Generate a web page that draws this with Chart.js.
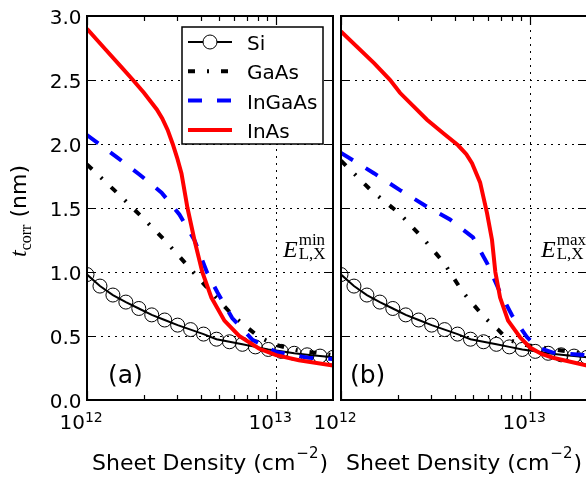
<!DOCTYPE html>
<html>
<head>
<meta charset="utf-8">
<script src="https://cdn.jsdelivr.net/npm/chart.js@4.4.0/dist/chart.umd.min.js"></script>
<style>
  html, body { margin: 0; padding: 0; background: #fff; overflow: hidden; }
  .panel { position: absolute; top: 0; left: 0; height: 479px; }
  #wrapA { width: 586px; }
  #wrapB { width: 600px; }
</style>
</head>
<body>
<div class="panel" id="wrapA"><canvas id="chartA"></canvas></div>
<div class="panel" id="wrapB"><canvas id="chartB"></canvas></div>
<script>
/** Data : sheet density in 1e12 cm^-2, t_corr in nm */
const seriesNames = ['Si', 'GaAs', 'InGaAs', 'InAs'];

const siDensity = [1.000, 1.171, 1.371, 1.605, 1.879, 2.200, 2.576, 3.016, 3.531, 4.134, 4.840, 5.667, 6.635, 7.768, 9.095, 10.65, 12.47, 14.59, 17.08, 20.00];
const siTcorr = [0.98, 0.89, 0.82, 0.765, 0.715, 0.665, 0.625, 0.585, 0.55, 0.515, 0.475, 0.455, 0.435, 0.415, 0.395, 0.38, 0.365, 0.353, 0.343, 0.333];

// panel (a) : E_min
const gaasDensityA = [1, 1.44, 1.95, 2.57, 3.4, 4.55, 6.0, 8.15, 10, 12.8, 20];
const gaasTcorrA = [1.84, 1.62, 1.43, 1.25, 1.05, 0.84, 0.65, 0.49, 0.43, 0.39, 0.35];
const ingaasDensityA = [1, 1.46, 1.9, 2.48, 3.08, 3.7, 4.33, 4.9, 5.86, 7.5, 10, 14.8, 20];
const ingaasTcorrA = [2.07, 1.89, 1.76, 1.62, 1.45, 1.25, 0.99, 0.84, 0.64, 0.47, 0.375, 0.33, 0.32];
const inasDensityA = [1, 1.25, 1.5, 1.75, 2, 2.34, 2.5, 2.67, 2.84, 3.0, 3.16, 3.4, 3.7, 4.07, 4.55, 5.33, 6.38, 8.15, 10, 13.2, 20];
const inasTcorrA = [2.90, 2.74, 2.61, 2.50, 2.40, 2.27, 2.20, 2.11, 2.00, 1.89, 1.77, 1.50, 1.25, 1.00, 0.80, 0.62, 0.50, 0.40, 0.35, 0.31, 0.27];

// panel (b) : E_max
const gaasDensityB = [1, 1.46, 2.03, 2.69, 3.51, 4.42, 5.78, 6.77, 7.65, 9.5, 11.6, 17.3, 20];
const gaasTcorrB = [1.87, 1.63, 1.46, 1.27, 1.07, 0.84, 0.64, 0.55, 0.47, 0.43, 0.41, 0.37, 0.36];
const ingaasDensityB = [1, 1.5, 2.05, 2.78, 3.77, 4.99, 5.92, 6.94, 8.03, 9.64, 11, 13.2, 20];
const ingaasTcorrB = [1.93, 1.77, 1.64, 1.52, 1.41, 1.27, 1.07, 0.84, 0.66, 0.49, 0.41, 0.37, 0.35];
const inasDensityB = [1, 1.5, 1.82, 2.05, 2.85, 3.5, 4.16, 4.6, 4.93, 5.44, 5.92, 6.29, 6.55, 6.94, 7.65, 8.85, 10, 11.5, 13.2, 20];
const inasTcorrB = [2.88, 2.63, 2.50, 2.40, 2.19, 2.08, 1.99, 1.92, 1.85, 1.70, 1.46, 1.25, 1.00, 0.80, 0.62, 0.49, 0.41, 0.36, 0.33, 0.27];

// axes
const yTicks = [0, 0.5, 1, 1.5, 2, 2.5, 3];
const yGrid = [0.5, 1, 1.5, 2, 2.5];
const xMajor = [1, 10];
const xMajorExp = ['12', '13'];
const xMinor = [2, 3, 4, 5, 6, 7, 8, 9];

/** Initialisation */
Chart.defaults.font.family = '"DejaVu Sans", sans-serif';
Chart.defaults.color = '#000';

const SANS = '"DejaVu Sans", sans-serif';
const SERIF = '"Liberation Serif", "DejaVu Serif", serif';

generateChart = (id, config) => new Chart(document.getElementById(id), config)

const toPoints = (xs, ys) => xs.map((x, i) => ({ x: x, y: ys[i] }));

const styles = {
    Si: { borderColor: '#000', borderWidth: 2, borderDash: [], pointRadius: 7, pointStyle: 'circle',
          pointBorderColor: '#000', pointBackgroundColor: 'rgba(0,0,0,0)', pointBorderWidth: 1 },
    GaAs: { borderColor: '#000', borderWidth: 4, borderDash: [7, 12, 2, 12], pointRadius: 0 },
    InGaAs: { borderColor: '#0000ff', borderWidth: 4, borderDash: [14, 15], pointRadius: 0 },
    InAs: { borderColor: '#ff0000', borderWidth: 4, borderDash: [], pointRadius: 0 }
};

function drawSuper(ctx, x, y, base, baseFont, sup, supFont, rise) {
    ctx.font = baseFont;
    ctx.fillText(base, x, y);
    const w = ctx.measureText(base).width;
    ctx.font = supFont;
    ctx.fillText(sup, x + w, y - rise);
    return w + ctx.measureText(sup).width;
}

/** Plugin : grid, frame, ticks, labels, legend */
const decor = {
    id: 'decor',
    beforeDatasetsDraw(chart, args, opts) {
        const { ctx, chartArea: a, scales: { x, y } } = chart;
        ctx.save();
        ctx.strokeStyle = '#000';
        ctx.lineWidth = 1;
        ctx.setLineDash([2, 5]);
        yGrid.forEach(v => {
            const py = Math.round(y.getPixelForValue(v)) + 0.5;
            ctx.beginPath(); ctx.moveTo(a.left, py); ctx.lineTo(a.right, py); ctx.stroke();
        });
        xMajor.forEach(v => {
            const px = Math.round(x.getPixelForValue(v)) + 0.5;
            if (px <= a.left + 2) return;
            ctx.beginPath(); ctx.moveTo(px, a.top); ctx.lineTo(px, a.bottom); ctx.stroke();
        });
        ctx.restore();
    },
    afterDatasetsDraw(chart, args, opts) {
        const { ctx, chartArea: a, scales: { x, y } } = chart;
        ctx.save();
        ctx.setLineDash([]);
        ctx.strokeStyle = '#000';
        ctx.fillStyle = '#000';

        // ticks (inward)
        ctx.lineWidth = 1.2;
        yTicks.forEach(v => {
            const py = Math.round(y.getPixelForValue(v)) + 0.5;
            ctx.beginPath();
            ctx.moveTo(a.left, py); ctx.lineTo(a.left + 9, py);
            ctx.moveTo(a.right, py); ctx.lineTo(a.right - 9, py);
            ctx.stroke();
        });
        xMajor.forEach(v => {
            const px = Math.round(x.getPixelForValue(v)) + 0.5;
            ctx.beginPath();
            ctx.moveTo(px, a.bottom); ctx.lineTo(px, a.bottom - 9);
            ctx.moveTo(px, a.top); ctx.lineTo(px, a.top + 9);
            ctx.stroke();
        });
        xMinor.forEach(v => {
            const px = Math.round(x.getPixelForValue(v)) + 0.5;
            ctx.beginPath();
            ctx.moveTo(px, a.bottom); ctx.lineTo(px, a.bottom - 5);
            ctx.moveTo(px, a.top); ctx.lineTo(px, a.top + 5);
            ctx.stroke();
        });

        // frame
        ctx.lineWidth = 2;
        ctx.strokeRect(a.left, a.top, a.right - a.left, a.bottom - a.top);

        // y tick labels
        if (opts.yLabels) {
            ctx.font = '20px ' + SANS;
            ctx.textAlign = 'right';
            ctx.textBaseline = 'alphabetic';
            yTicks.forEach(v => {
                ctx.fillText(v.toFixed(1), a.left - 5.5, y.getPixelForValue(v) + 8);
            });
        }

        // x tick labels
        ctx.textAlign = 'left';
        ctx.textBaseline = 'alphabetic';
        xMajor.forEach((v, i) => {
            const px = x.getPixelForValue(v);
            drawSuper(ctx, px - 27.5, a.bottom + 29, '10', '20px ' + SANS, xMajorExp[i], '14px ' + SANS, 7.5);
        });

        // x title
        ctx.font = '22px ' + SANS;
        const t1 = 'Sheet Density (cm';
        const w1 = ctx.measureText(t1).width;
        ctx.font = '15px ' + SANS;
        const w2 = ctx.measureText('\u22122').width;
        ctx.font = '22px ' + SANS;
        const w3 = ctx.measureText(')').width;
        let tx = (a.left + a.right) / 2 - (w1 + w2 + w3 + 2) / 2;
        ctx.fillText(t1, tx, 470);
        ctx.font = '15px ' + SANS;
        ctx.fillText('\u22122', tx + w1 + 1, 458);
        ctx.font = '22px ' + SANS;
        ctx.fillText(')', tx + w1 + w2 + 2, 470);

        // y title : t_corr (nm)
        if (opts.yLabels) {
            ctx.save();
            ctx.translate(26, 211);
            ctx.rotate(-Math.PI / 2);
            ctx.font = 'italic 24px ' + SERIF;
            const wt = ctx.measureText('t').width;
            ctx.font = '16px ' + SERIF;
            const wc = ctx.measureText('corr').width;
            ctx.font = '22px ' + SANS;
            const wn = ctx.measureText(' (nm)').width;
            let sx = -(wt + wc + wn) / 2;
            ctx.font = 'italic 24px ' + SERIF;
            ctx.fillText('t', sx, 0);
            ctx.font = '16px ' + SERIF;
            ctx.fillText('corr', sx + wt, 5);
            ctx.font = '22px ' + SANS;
            ctx.fillText(' (nm)', sx + wt + wc, 0);
            ctx.restore();
        }

        // panel label
        ctx.font = '25px ' + SANS;
        ctx.fillText(opts.label, a.left + opts.labelOffset, 383);

        // E_{L,X}^{min/max}
        ctx.font = 'italic 24px ' + SERIF;
        ctx.fillText('E', opts.eX, 257);
        const we = ctx.measureText('E').width;
        ctx.font = '17px ' + SERIF;
        ctx.fillText(opts.eSup, opts.eX + we + 1, 245);
        ctx.fillText('L,X', opts.eX + we + 1, 259);

        // legend
        if (opts.legend) {
            ctx.fillStyle = '#fff';
            ctx.fillRect(182, 27, 141, 117);
            ctx.lineWidth = 1.5;
            ctx.strokeStyle = '#000';
            ctx.strokeRect(182, 27, 141, 117);
            seriesNames.forEach((name, i) => {
                const s = styles[name];
                const ly = 42 + 29.3 * i;
                ctx.save();
                ctx.strokeStyle = s.borderColor;
                ctx.lineWidth = s.borderWidth;
                ctx.lineCap = 'butt';
                ctx.setLineDash(s.borderDash);
                ctx.beginPath(); ctx.moveTo(188, ly); ctx.lineTo(232, ly); ctx.stroke();
                if (s.pointRadius) {
                    ctx.setLineDash([]);
                    ctx.lineWidth = 1;
                    ctx.fillStyle = '#fff';
                    ctx.beginPath(); ctx.arc(210, ly, s.pointRadius, 0, Math.PI * 2);
                    ctx.fill(); ctx.stroke();
                }
                ctx.restore();
                ctx.fillStyle = '#000';
                ctx.font = '20px ' + SANS;
                ctx.fillText(name, 247, ly + 8);
            });
        }
        ctx.restore();
    }
};

function panelConfig(series, decorOpts, padding) {
    return {
        type: 'line',
        data: {
            datasets: [
                Object.assign({ label: 'InAs', data: toPoints(series.inas[0], series.inas[1]), order: 0 }, styles.InAs),
                Object.assign({ label: 'InGaAs', data: toPoints(series.ingaas[0], series.ingaas[1]), order: 1 }, styles.InGaAs),
                Object.assign({ label: 'GaAs', data: toPoints(series.gaas[0], series.gaas[1]), order: 2 }, styles.GaAs),
                Object.assign({ label: 'Si', data: toPoints(siDensity, siTcorr), order: 3 }, styles.Si)
            ].map(d => Object.assign(d, { fill: false, tension: 0, clip: 0 }))
        },
        options: {
            animation: false,
            events: [],
            layout: { padding: padding },
            scales: {
                x: { type: 'logarithmic', min: 1, max: 20, display: false },
                y: { type: 'linear', min: 0, max: 3, display: false }
            },
            plugins: {
                legend: { display: false },
                tooltip: { enabled: false },
                title: { display: false },
                decor: decorOpts
            },
            responsive: true,
            maintainAspectRatio: false
        },
        plugins: [decor]
    };
}

generateChart('chartA', panelConfig(
    { gaas: [gaasDensityA, gaasTcorrA], ingaas: [ingaasDensityA, ingaasTcorrA], inas: [inasDensityA, inasTcorrA] },
    { label: '(a)', labelOffset: 21, eX: 283, eSup: 'min', legend: true, yLabels: true },
    { left: 87, top: 16, right: 253, bottom: 79 }
));

generateChart('chartB', panelConfig(
    { gaas: [gaasDensityB, gaasTcorrB], ingaas: [ingaasDensityB, ingaasTcorrB], inas: [inasDensityB, inasTcorrB] },
    { label: '(b)', labelOffset: 9, eX: 541, eSup: 'max', legend: false, yLabels: false },
    { left: 341, top: 16, right: 13, bottom: 79 }
));
</script>
</body>
</html>
